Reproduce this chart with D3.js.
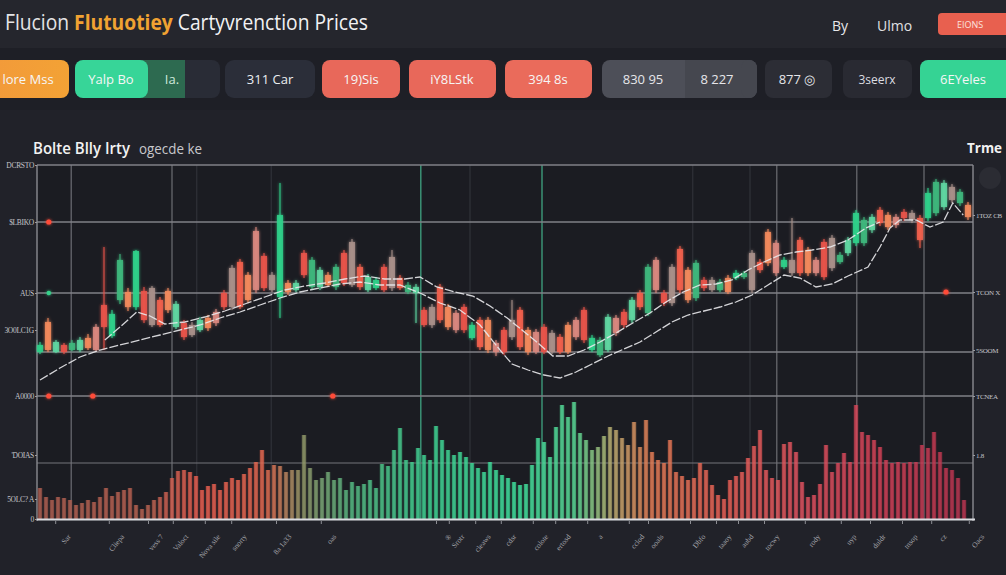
<!DOCTYPE html>
<html>
<head>
<meta charset="utf-8">
<script src="https://cdn.jsdelivr.net/npm/d3@7"></script>
<style>
  html, body { margin: 0; padding: 0; background: #202128; }
  svg { display: block; }
</style>
</head>
<body>
<script>
// свечи: индекс = слот по времени, цены в тысячах
const candleOpen = [24.4, 27.4, 24.4, 25.1, 24.6, 24.6, 25.8, 26.9, 29.1, 26.0,
  29.6, 30.4, 28.9, 30.5, 30.8, 29.6, 30.5, 26.9, 27.3, 27.1,
  26.6, 27.8, 28.4, 30.3, 32.8, 33.4, 32.1, 36.5, 34.0, 32.1,
  29.9, 31.3, 30.6, 34.3, 30.9, 30.9, 32.1, 30.9, 34.3, 35.4,
  32.9, 30.6, 30.8, 32.9, 33.9, 31.8, 30.4, 30.3, 28.6, 28.9,
  30.9, 28.9, 28.3, 28.9, 25.8, 27.6, 27.6, 25.3, 26.6, 27.6,
  28.6, 26.6, 26.4, 26.9, 26.3, 25.9, 27.1, 27.6, 28.6, 24.6,
  24.1, 24.6, 27.8, 28.4, 27.6, 30.3, 28.3, 33.6, 30.3, 32.9,
  34.7, 32.6, 29.8, 31.6, 31.6, 30.6, 31.8, 31.8, 31.9, 34.3,
  33.4, 36.4, 35.3, 32.9, 33.6, 35.6, 34.6, 33.6, 35.4, 35.8,
  33.4, 34.3, 35.3, 35.3, 36.6, 38.6, 38.1, 37.9, 38.4, 38.3,
  37.8, 37.8, 38.3, 38.9, 40.9, 39.3, 39.1];
const candleClose = [25.1, 24.6, 25.4, 24.4, 25.3, 25.6, 24.8, 24.6, 26.9, 28.2,
  33.6, 28.9, 34.5, 27.6, 27.1, 27.1, 28.6, 29.2, 25.9, 26.1,
  27.6, 26.8, 27.3, 28.9, 28.9, 28.9, 29.6, 30.6, 30.8, 30.6,
  38.1, 30.4, 31.3, 32.1, 33.6, 32.6, 31.1, 32.9, 31.3, 31.1,
  30.9, 31.9, 31.6, 30.6, 30.8, 30.8, 31.1, 30.9, 27.1, 27.1,
  27.6, 26.9, 26.6, 26.6, 27.1, 24.9, 24.6, 24.4, 24.4, 25.9,
  24.9, 24.4, 24.4, 24.4, 24.4, 24.4, 24.4, 25.9, 25.6, 25.8,
  25.6, 27.9, 26.3, 27.1, 29.6, 28.9, 32.9, 30.6, 29.3, 29.3,
  30.6, 29.6, 33.3, 30.8, 30.6, 31.4, 30.4, 32.3, 32.3, 30.6,
  32.6, 33.3, 32.3, 33.6, 32.3, 32.3, 32.3, 32.3, 31.9, 32.8,
  34.1, 35.6, 38.3, 37.6, 37.9, 37.3, 36.9, 37.1, 37.8, 37.6,
  35.6, 40.3, 41.4, 41.3, 39.6, 40.4, 37.9];
const candleHigh = [25.4, 27.8, 25.6, 25.3, 25.6, 25.9, 26.2, 27.2, 34.9, 28.6,
  34.2, 30.8, 34.6, 30.9, 31.0, 29.9, 30.8, 29.5, 27.6, 27.4,
  27.9, 28.1, 28.7, 30.6, 33.1, 33.7, 32.4, 36.9, 34.3, 32.4,
  41.3, 31.6, 31.6, 34.6, 33.9, 32.9, 32.4, 33.2, 34.6, 35.7,
  33.2, 32.2, 31.9, 33.2, 34.6, 32.1, 31.4, 31.2, 28.9, 29.2,
  31.2, 29.2, 28.6, 29.2, 27.4, 27.9, 27.9, 25.6, 26.9, 29.6,
  28.9, 26.9, 26.7, 27.2, 26.6, 26.2, 27.4, 27.9, 28.9, 26.1,
  25.9, 28.2, 28.1, 28.7, 29.9, 30.6, 33.2, 33.9, 30.6, 33.2,
  35.0, 32.9, 33.6, 31.9, 31.9, 31.7, 32.1, 32.6, 32.5, 34.6,
  33.7, 36.7, 35.6, 33.9, 37.8, 35.9, 34.9, 33.9, 35.7, 36.1,
  34.4, 35.9, 38.6, 37.9, 38.2, 38.9, 38.4, 38.2, 38.7, 38.6,
  38.1, 40.8, 41.7, 41.6, 41.2, 40.7, 39.4];
const candleLow = [24.2, 24.4, 24.3, 24.2, 24.5, 24.4, 24.6, 24.5, 24.6, 25.8,
  29.2, 28.5, 28.6, 27.3, 26.9, 26.9, 28.3, 26.7, 25.6, 25.9,
  26.4, 26.5, 27.0, 28.6, 28.6, 28.7, 29.3, 30.3, 30.5, 30.4,
  27.8, 30.1, 30.4, 31.8, 30.7, 30.6, 30.9, 30.6, 31.0, 30.9,
  30.6, 30.4, 30.6, 30.4, 30.5, 30.6, 30.2, 27.3, 26.9, 26.8,
  27.3, 26.6, 26.3, 26.3, 25.6, 24.6, 24.3, 24.0, 24.1, 25.6,
  24.6, 24.1, 24.2, 24.2, 24.2, 24.2, 24.2, 25.6, 25.3, 24.4,
  23.9, 24.4, 26.0, 26.8, 27.3, 28.6, 28.0, 30.3, 29.0, 29.0,
  30.3, 29.3, 29.5, 30.5, 30.4, 30.4, 30.2, 31.6, 31.7, 30.3,
  32.3, 33.0, 32.0, 32.7, 32.0, 32.0, 32.0, 32.0, 31.6, 32.5,
  33.2, 34.0, 35.0, 35.0, 36.3, 37.0, 36.6, 36.8, 37.5, 37.3,
  34.8, 37.5, 38.0, 38.6, 39.3, 39.0, 37.6];

// скользящие средние: [индекс свечи, цена]
const maSlow = [[0, 21.6], [2.5, 22.8], [5, 23.9], [7.5, 24.6], [10, 25.1], [12.5, 25.6], [15, 26.1],
  [17.5, 26.6], [20, 27.1], [22.5, 27.8], [25, 28.4], [27.5, 29.1], [30, 29.8], [32.5, 30.4],
  [35, 30.8], [37.5, 31.2], [40, 31.4], [42.5, 31.1], [45, 31.1], [47.5, 30.3], [50, 29.3],
  [52.5, 28.6], [55, 27.1], [57.5, 24.6], [59, 23.2], [61, 22.6], [63, 22.1], [65, 21.8],
  [67, 22.4], [69, 23.2], [71, 24.0], [73, 24.7], [75, 25.4], [77, 26.4], [79, 27.4],
  [81, 28.1], [83, 28.5], [85, 28.9], [87, 29.4], [89, 30.1], [91, 31.1], [93, 32.1],
  [95, 31.8], [97, 30.9], [99, 31.2], [101, 32.0], [103.5, 32.9], [105, 34.9], [106.25, 36.8],
  [107.5, 37.6], [109.5, 37.6], [111.25, 36.9], [112.9, 37.4], [114.1, 39.3], [115.4, 38.1]];
const maFast = [[8.1, 25.6], [10, 26.9], [12.1, 28.4], [13.75, 28.0], [15.6, 27.2], [18.1, 27.4],
  [20.6, 27.9], [23.1, 28.5], [25.6, 29.2], [28.1, 29.9], [30.6, 30.6], [33.1, 31.0], [35.6, 31.3],
  [38.1, 31.7], [40.6, 32.0], [43.1, 31.7], [45.6, 31.7], [47.5, 31.9], [49.6, 30.9], [51.9, 30.4],
  [54.1, 30.0], [56.25, 29.0], [58.4, 27.8], [60.25, 26.6], [62.25, 25.3], [64.1, 24.0], [66, 24.0],
  [68, 24.6], [70, 25.4], [72, 26.3], [74.1, 27.3], [76.25, 28.3], [78.25, 29.4], [80.4, 30.4],
  [82.5, 31.1], [84.5, 31.2], [86.5, 31.6], [88.5, 32.6], [90.5, 33.4], [92.5, 34.1], [94.5, 34.4],
  [96.5, 34.6], [98.75, 34.9], [101, 35.6], [103.25, 36.8], [105, 37.4]];

// объём по слотам (тыс.)
const volume = [31, 22, 19, 22, 21, 19, 14, 16, 19, 17, 22, 31, 23, 27, 29, 31, 14, 10, 14, 19,
  22, 27, 41, 48, 49, 47, 43, 29, 33, 35, 29, 37, 41, 39, 45, 51, 57, 69, 49, 54,
  53, 47, 49, 49, 84, 51, 39, 41, 47, 39, 41, 29, 37, 33, 35, 39, 31, 55, 53, 69,
  91, 59, 57, 71, 64, 59, 93, 79, 69, 64, 67, 62, 56, 51, 47, 57, 49, 44, 41, 37,
  34, 35, 54, 81, 77, 62, 92, 114, 102, 117, 86, 79, 69, 72, 83, 92, 89, 81, 74, 97,
  72, 99, 67, 59, 56, 79, 47, 43, 39, 41, 56, 49, 34, 24, 20, 39, 43, 47, 61, 73,
  89, 49, 41, 39, 75, 77, 67, 37, 22, 24, 35, 74, 47, 56, 66, 57, 114, 87, 84, 79,
  72, 59, 56, 57, 56, 57, 57, 74, 71, 87, 67, 51, 49, 41, 19];

// отметки на сетке: [индекс, цена]
const redMarks = [[1.1, 37.4], [1.1, 20.0], [6.6, 20.0], [36.6, 20.0], [113.25, 30.4]];
const greenMarks = [[1.1, 30.3]];

// подписи осей
const priceGrid = [43.1, 37.4, 30.3, 24.4, 20.0];
const volumeGrid = [56];
const leftPriceTicks = [43.1, 37.4, 30.3, 26.6, 20.0];
const leftPriceLabels = ["DCRSTO", "$LBIKO", "AUS", "3O0LC1G", "A0000"];
const leftVolTicks = [64, 20, 0];
const leftVolLabels = ["'DOIAS", "5OLC? A", "0"];
const rightPriceTicks = [38.1, 30.4, 24.6, 20.0];
const rightPriceLabels = ["1TOZ CB", "TCON X", "5SOOM", "TCNEA"];
const rightVolTicks = [64];
const rightVolLabels = ["1.8"];

const gridMajor = [3.9, 16.5, 92.1, 102.1, 110.5];
const gridGreen = [47.6, 62.75];
const gridFaint = [19.6, 28.9, 53.75, 81.6, 88.75];

const xLabelIdx = [1.9, 8.6, 13.5, 16.6, 20.6, 23.9, 29.5, 35.1, 49.5, 51.1, 54.4, 57.6, 61.6,
  64.4, 68.4, 73.6, 76, 81.25, 84.5, 87.25, 90.5, 95.6, 100.1, 103.75, 107.75, 111.4, 116.1];
const xLabels = ["Sar", "Cliepa", "vess 7", "Valoct", "Nova sile", "snorty", "8a 1a33", "oas",
  "®", "Srotr", "cleaws", "cdsr", "colote", "ertosd", "a", "cclod", "ooals", "Dbfo", "taaoy",
  "aubd", "tocwy", "rody", "uyp", "duldr", "tnsop", "cz", "Oacs"];

const titleParts = ["Flucion ", "Flutuotiey", " Cartyvrenction Prices"];
const pillLabels = ["lore Mss", "Yalp Bo", "Ia.", "311 Car", "19)Sis", "iY8LStk", "394 8s",
  "830  95", "8  227", "877 ◎", "3seerx", "6EYeles"];

const W = 1006, H = 575;
const svg = d3.select("body").append("svg").attr("width", W).attr("height", H);

const defs = svg.append("defs");
const glow = defs.append("filter").attr("id", "glow")
  .attr("x", "-50%").attr("y", "-50%").attr("width", "200%").attr("height", "200%");
glow.append("feGaussianBlur").attr("stdDeviation", 1.6).attr("result", "b");
const gm = glow.append("feMerge");
gm.append("feMergeNode").attr("in", "b");
gm.append("feMergeNode").attr("in", "SourceGraphic");

const orangeGrad = defs.append("linearGradient").attr("id", "orangeGrad");
orangeGrad.append("stop").attr("offset", "0%").attr("stop-color", "#f29a3a");
orangeGrad.append("stop").attr("offset", "100%").attr("stop-color", "#f3a235");

// фон
svg.append("rect").attr("width", W).attr("height", H).attr("fill", "#212229");
svg.append("rect").attr("width", W).attr("height", 48).attr("fill", "#25262d");
svg.append("rect").attr("y", 48).attr("width", W).attr("height", 62).attr("fill", "#1e1f26");
svg.append("rect").attr("x", 37).attr("y", 165).attr("width", 936).attr("height", 354).attr("fill", "#1b1c22");

// заголовок
const head = svg.append("g").style("font-family", "'Open Sans', sans-serif");
const title = head.append("text").attr("x", 5).attr("y", 30).attr("font-size", 21)
  .attr("textLength", 363).attr("lengthAdjust", "spacingAndGlyphs");
title.append("tspan").attr("fill", "#e4e4e6").text(titleParts[0]);
title.append("tspan").attr("fill", "#f0a232").attr("font-weight", 700).text(titleParts[1]);
title.append("tspan").attr("fill", "#f2f2f4").text(titleParts[2]);
head.append("text").attr("x", 832).attr("y", 31).attr("font-size", 14).attr("fill", "#e8e8ea").text("By");
head.append("text").attr("x", 877).attr("y", 31).attr("font-size", 14).attr("fill", "#e0e0e2").text("Ulmo");
head.append("rect").attr("x", 938).attr("y", 13).attr("width", 80).attr("height", 22).attr("rx", 4).attr("fill", "#e8604f");
head.append("text").attr("x", 970).attr("y", 28).attr("font-size", 9).attr("fill", "#fbe3df")
  .attr("text-anchor", "middle").text("EIONS");

// плашки
const pills = svg.append("g").style("font-family", "'Open Sans', sans-serif");
function pill(x0, w, fill, r) {
  pills.append("rect").attr("x", x0).attr("y", 60).attr("width", w).attr("height", 38)
    .attr("rx", r).attr("fill", fill);
}
function pillText(cx, s, color, size) {
  pills.append("text").attr("x", cx).attr("y", 84).attr("text-anchor", "middle")
    .attr("font-size", size || 13).attr("fill", color || "#f6f6f6").text(s);
}
pill(-8, 77, "url(#orangeGrad)", 8); pillText(28, pillLabels[0]);
pill(140, 80, "#292c36", 8);
pills.append("rect").attr("x", 140).attr("y", 60).attr("width", 45).attr("height", 38).attr("fill", "#2d6a50");
pill(75, 73, "#37d598", 8); pillText(111, pillLabels[1]);
pillText(172, pillLabels[2], "#cfe9dc", 13);
pill(225, 90, "#2b2e39", 9); pillText(270, pillLabels[3], "#eceef2");
pill(322, 78, "#e8685a", 8); pillText(361, pillLabels[4]);
pill(409, 87, "#e8685a", 8); pillText(452, pillLabels[5]);
pill(505, 87, "#ea6b5b", 8); pillText(548, pillLabels[6]);
pill(602, 155, "#4d4f58", 8);
pills.append("rect").attr("x", 685).attr("y", 60).attr("width", 64).attr("height", 38).attr("fill", "#45474f");
pill(741, 16, "#45474f", 8);
pillText(643, pillLabels[7], "#e6e6ea"); pillText(717, pillLabels[8], "#e6e6ea");
pill(765, 67, "#2c2d35", 8); pillText(797, pillLabels[9], "#e6e6ea");
pill(843, 69, "#292a32", 8); pillText(877, pillLabels[10], "#dcdce0", 12);
pill(920, 95, "#35d394", 8); pillText(963, pillLabels[11]);

// подзаголовок графика
svg.append("text").attr("x", 33).attr("y", 154).attr("font-family", "'Open Sans', sans-serif")
  .attr("font-size", 17).attr("font-weight", 600).attr("fill", "#f2f2f2")
  .attr("textLength", 97).attr("lengthAdjust", "spacingAndGlyphs").text("Bolte Blly Irty");
svg.append("text").attr("x", 139).attr("y", 154).attr("font-family", "'Open Sans', sans-serif")
  .attr("font-size", 14).attr("fill", "#c8c8cc")
  .attr("textLength", 63).attr("lengthAdjust", "spacingAndGlyphs").text("ogecde ke");
svg.append("text").attr("x", 967).attr("y", 153).attr("font-family", "'Open Sans', sans-serif")
  .attr("font-size", 15).attr("font-weight", 700).attr("fill", "#f2f2f2")
  .attr("textLength", 35).attr("lengthAdjust", "spacingAndGlyphs").text("Trme");
svg.append("circle").attr("cx", 990).attr("cy", 178).attr("r", 11).attr("fill", "#2b2c33");

// шкалы
const x = d3.scaleLinear().domain([0, 116]).range([40, 968]);
const y = d3.scaleLinear().domain([20, 43.1]).range([396, 165]);
const xv = d3.scaleLinear().domain([0, volume.length - 1]).range([40, 964]);
const yv = d3.scaleLinear().domain([0, 124]).range([519, 395]);

// сетка
const grid = svg.append("g");
gridFaint.forEach(d => grid.append("line").attr("x1", x(d)).attr("x2", x(d)).attr("y1", 165).attr("y2", 519)
  .attr("stroke", "#34363d").attr("stroke-width", 1));
gridMajor.forEach(d => grid.append("line").attr("x1", x(d)).attr("x2", x(d)).attr("y1", 165).attr("y2", 519)
  .attr("stroke", "#6d6e74").attr("stroke-width", 1.2));
gridGreen.forEach(d => grid.append("line").attr("x1", x(d)).attr("x2", x(d)).attr("y1", 165).attr("y2", 519)
  .attr("stroke", "#3d9a7a").attr("stroke-width", 1.4));
priceGrid.forEach(d => grid.append("line").attr("x1", 37).attr("x2", 973).attr("y1", y(d)).attr("y2", y(d))
  .attr("stroke", "#808187").attr("stroke-width", 1.4));
volumeGrid.forEach(d => grid.append("line").attr("x1", 37).attr("x2", 973).attr("y1", yv(d)).attr("y2", yv(d))
  .attr("stroke", "#74757b").attr("stroke-width", 1.2));
grid.append("line").attr("x1", 37).attr("x2", 37).attr("y1", 165).attr("y2", 521).attr("stroke", "#8a8b91").attr("stroke-width", 1.4);
grid.append("line").attr("x1", 973).attr("x2", 973).attr("y1", 165).attr("y2", 521).attr("stroke", "#8a8b91").attr("stroke-width", 1.4);

// объём
const volColor = d3.scaleLinear()
  .domain([40, 150, 200, 265, 300, 350, 420, 520, 575, 610, 650, 720, 800, 880, 970])
  .range(["#a0574c", "#a85a4c", "#e0574a", "#d8604a", "#8a8a60", "#4fa878", "#3bbf86", "#3bd592",
    "#52c98a", "#a9a26a", "#d8744f", "#e05a50", "#d24c58", "#c03c50", "#a8304a"]);
const vol = svg.append("g");
vol.selectAll("rect").data(volume).enter().append("rect")
  .attr("x", (d, j) => xv(j) - 2.2).attr("width", 4.4)
  .attr("y", d => yv(d)).attr("height", d => yv(0) - yv(d))
  .attr("fill", (d, j) => volColor(xv(j))).attr("fill-opacity", 0.78);
vol.selectAll("line").data(volume).enter().append("line")
  .attr("x1", (d, j) => xv(j)).attr("x2", (d, j) => xv(j))
  .attr("y1", d => yv(d)).attr("y2", yv(0))
  .attr("stroke", (d, j) => d3.color(volColor(xv(j))).brighter(0.8))
  .attr("stroke-opacity", 0.55).attr("stroke-width", 1);
svg.append("line").attr("x1", 37).attr("x2", 975).attr("y1", 519.5).attr("y2", 519.5)
  .attr("stroke", "#dadbe0").attr("stroke-width", 2);

// свечи
const upColors = ["#2fd08a", "#3fb77c", "#5fd6a0"];
const downColors = ["#f0604c", "#f28a5c", "#d9887e", "#e8544a", "#a8908a"];
const candles = d3.range(candleOpen.length).map(i => ({
  i, o: candleOpen[i], c: candleClose[i], h: candleHigh[i], l: candleLow[i]
}));
const cColor = d => d.c >= d.o ? upColors[d.i % 3] : downColors[d.i % 5];
const cg = svg.append("g").attr("filter", "url(#glow)");
cg.selectAll("line").data(candles).enter().append("line")
  .attr("x1", d => x(d.i)).attr("x2", d => x(d.i))
  .attr("y1", d => y(d.h)).attr("y2", d => y(d.l))
  .attr("stroke", cColor).attr("stroke-width", 1.3).attr("stroke-opacity", 0.8);
cg.selectAll("rect").data(candles).enter().append("rect")
  .attr("x", d => x(d.i) - 3).attr("width", 6)
  .attr("y", d => y(Math.max(d.o, d.c)))
  .attr("height", d => Math.max(2, Math.abs(y(d.o) - y(d.c))))
  .attr("fill", cColor).attr("fill-opacity", 0.88);

// скользящие средние
const maLine = d3.line().x(d => x(d[0])).y(d => y(d[1]));
[maSlow, maFast].forEach(s => svg.append("path").attr("d", maLine(s))
  .attr("fill", "none").attr("stroke", "#e9e9ec").attr("stroke-width", 1.3)
  .attr("stroke-dasharray", "9 2").attr("stroke-opacity", 0.9));

// отметки
const mk = svg.append("g").attr("filter", "url(#glow)");
mk.selectAll(".r").data(redMarks).enter().append("circle")
  .attr("cx", d => x(d[0])).attr("cy", d => y(d[1])).attr("r", 2.6).attr("fill", "#ff4b38");
mk.selectAll(".g").data(greenMarks).enter().append("circle")
  .attr("cx", d => x(d[0])).attr("cy", d => y(d[1])).attr("r", 2.2).attr("fill", "#36d08a");

// оси
function styleAxis(g, size) {
  g.select(".domain").remove();
  g.selectAll("line").attr("stroke", "#9a9ba0");
  g.selectAll("text").attr("fill", "#c4c5ca").style("font-family", "'Liberation Serif', serif")
    .style("font-size", size + "px").style("letter-spacing", "-0.3px");
}
svg.append("g").attr("transform", "translate(37,0)")
  .call(d3.axisLeft(y).tickValues(leftPriceTicks).tickSize(2).tickPadding(1)
    .tickFormat((d, i) => leftPriceLabels[i])).call(g => styleAxis(g, 7.5));
svg.append("g").attr("transform", "translate(37,0)")
  .call(d3.axisLeft(yv).tickValues(leftVolTicks).tickSize(2).tickPadding(1)
    .tickFormat((d, i) => leftVolLabels[i])).call(g => styleAxis(g, 7.5));
svg.append("g").attr("transform", "translate(973,0)")
  .call(d3.axisRight(y).tickValues(rightPriceTicks).tickSize(2).tickPadding(1)
    .tickFormat((d, i) => rightPriceLabels[i])).call(g => styleAxis(g, 7));
svg.append("g").attr("transform", "translate(973,0)")
  .call(d3.axisRight(yv).tickValues(rightVolTicks).tickSize(2).tickPadding(1)
    .tickFormat((d, i) => rightVolLabels[i])).call(g => styleAxis(g, 7));

const xa = svg.append("g").attr("transform", "translate(0,521)")
  .call(d3.axisBottom(x).tickValues(xLabelIdx).tickSize(3).tickPadding(4)
    .tickFormat((d, i) => xLabels[i]));
xa.select(".domain").remove();
xa.selectAll("line").attr("stroke", "#8d8e94");
xa.selectAll("text").attr("fill", "#a3a4aa").style("font-family", "'Liberation Serif', serif")
  .style("font-size", "7.5px").attr("text-anchor", "end")
  .attr("transform", "translate(6,8) rotate(-50)");
</script>
</body>
</html>
